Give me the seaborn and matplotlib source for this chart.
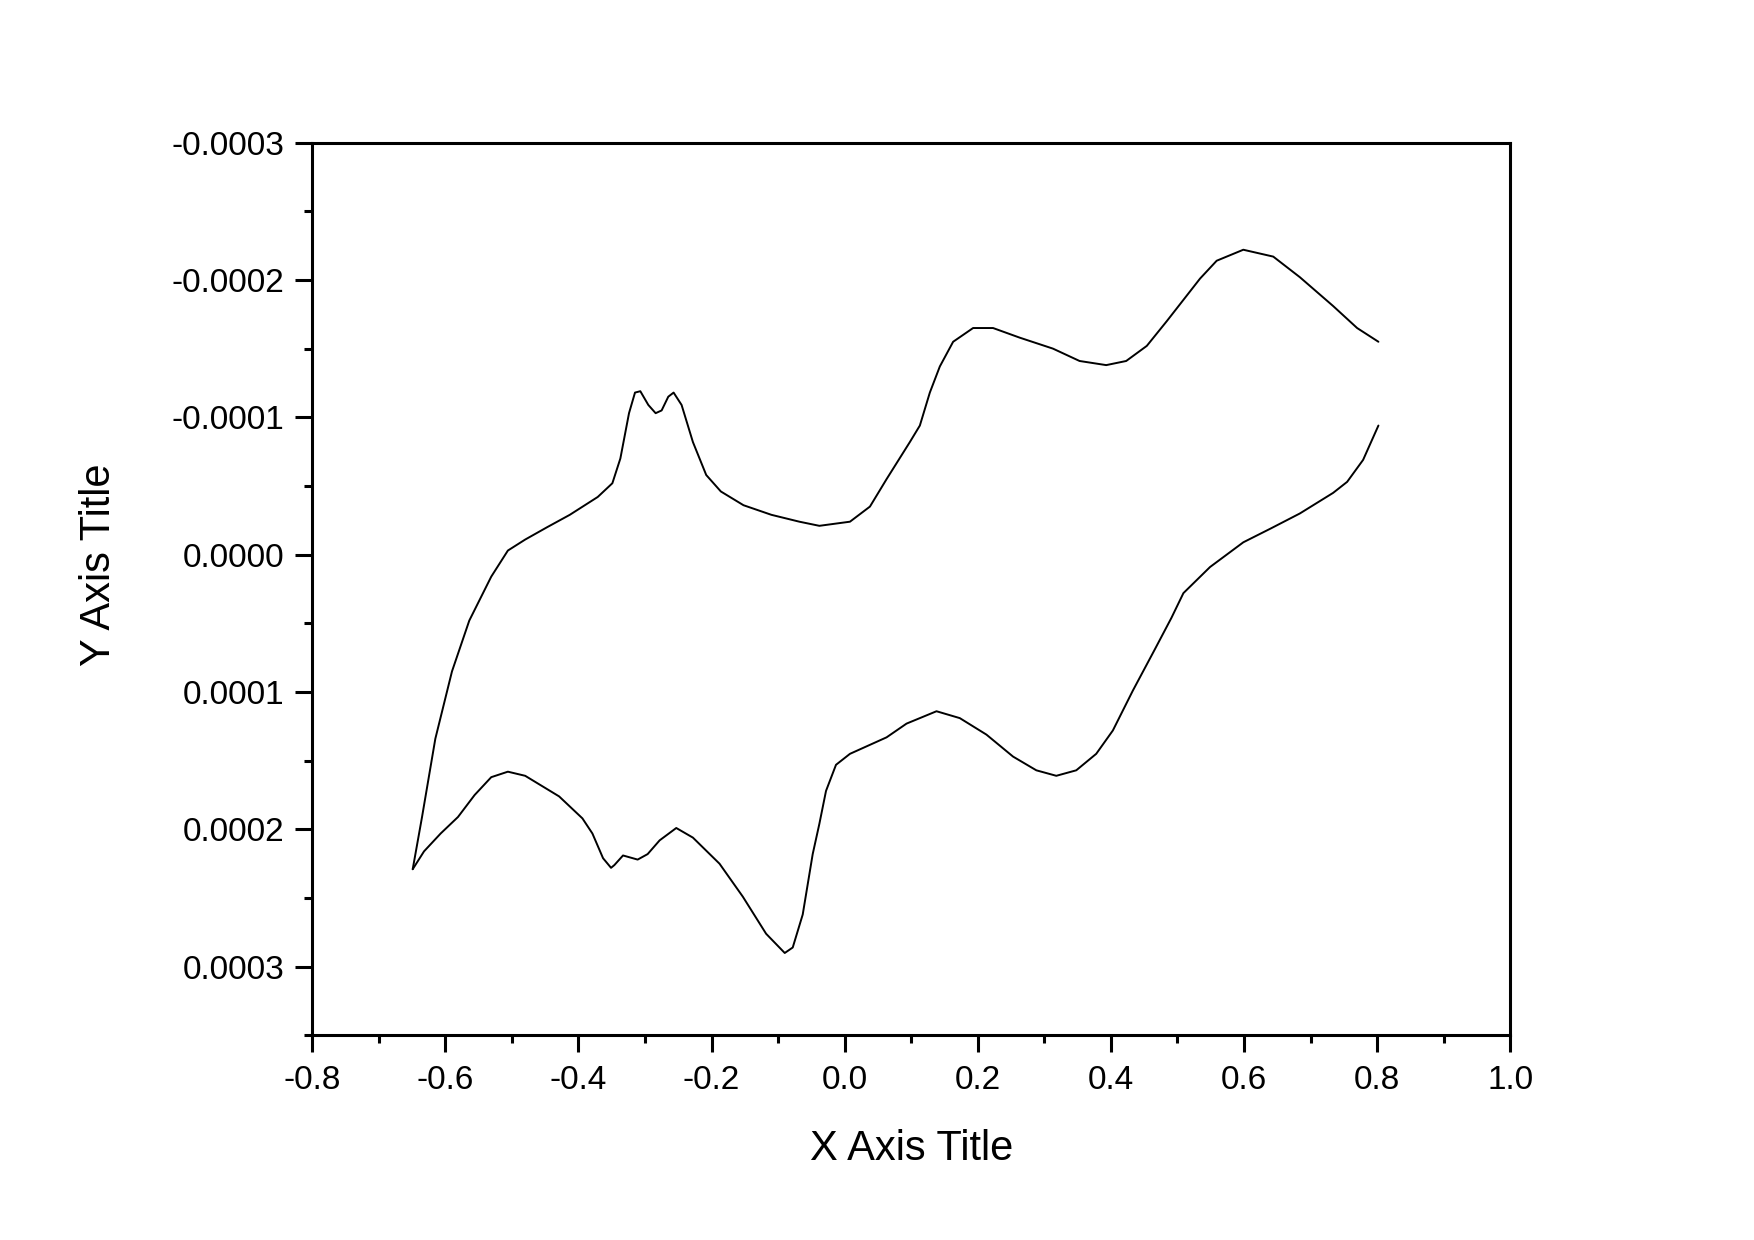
import matplotlib
matplotlib.use("Agg")

import matplotlib.pyplot as plt
import seaborn as sns
from matplotlib.ticker import MultipleLocator, FormatStrFormatter

# forward sweep (upper branch on screen), potential / current in 1e-4
fwd_x = [-0.649, -0.635, -0.615, -0.590, -0.564, -0.531, -0.506, -0.480, -0.447, -0.413,
         -0.371, -0.349, -0.337, -0.324, -0.315, -0.307, -0.295, -0.284, -0.275, -0.265,
         -0.257, -0.245, -0.228, -0.208, -0.186, -0.152, -0.110, -0.068, -0.038, 0.008,
         0.038, 0.063, 0.098, 0.113, 0.128, 0.143, 0.163, 0.193, 0.223, 0.263,
         0.313, 0.353, 0.393, 0.423, 0.454, 0.484, 0.534, 0.559, 0.599, 0.644,
         0.684, 0.734, 0.770, 0.802]
fwd_y = [2.29, 1.91, 1.34, 0.85, 0.48, 0.16, -0.03, -0.11, -0.20, -0.29,
         -0.42, -0.52, -0.70, -1.03, -1.18, -1.19, -1.09, -1.03, -1.05, -1.15,
         -1.18, -1.09, -0.82, -0.58, -0.46, -0.36, -0.29, -0.24, -0.21, -0.24,
         -0.35, -0.55, -0.82, -0.94, -1.18, -1.37, -1.55, -1.65, -1.65, -1.58,
         -1.50, -1.41, -1.38, -1.41, -1.52, -1.70, -2.01, -2.14, -2.22, -2.17,
         -2.02, -1.81, -1.65, -1.55]

# reverse sweep (lower branch on screen)
rev_x = [0.802, 0.779, 0.755, 0.734, 0.684, 0.640, 0.599, 0.549, 0.509, 0.491,
         0.466, 0.433, 0.403, 0.378, 0.348, 0.318, 0.288, 0.253, 0.213, 0.173,
         0.138, 0.093, 0.063, 0.008, -0.013, -0.028, -0.038, -0.048, -0.063, -0.078,
         -0.090, -0.118, -0.153, -0.188, -0.228, -0.253, -0.278, -0.296, -0.311, -0.333,
         -0.346, -0.351, -0.363, -0.379, -0.394, -0.429, -0.480, -0.506, -0.531, -0.556,
         -0.581, -0.607, -0.632, -0.649]
rev_y = [-0.94, -0.69, -0.53, -0.45, -0.30, -0.19, -0.09, 0.09, 0.28, 0.46,
         0.69, 0.99, 1.28, 1.45, 1.57, 1.61, 1.57, 1.47, 1.31, 1.19,
         1.14, 1.23, 1.33, 1.45, 1.53, 1.72, 1.96, 2.18, 2.62, 2.86,
         2.90, 2.76, 2.49, 2.25, 2.06, 1.99, 2.08, 2.18, 2.22, 2.19,
         2.26, 2.28, 2.21, 2.03, 1.92, 1.76, 1.61, 1.58, 1.62, 1.75,
         1.91, 2.03, 2.16, 2.29]

fwd_y = [v * 1e-4 for v in fwd_y]
rev_y = [v * 1e-4 for v in rev_y]

sns.set_style("white")
plt.rcParams["font.family"] = ["Liberation Sans", "DejaVu Sans"]
plt.rcParams["text.color"] = "black"
plt.rcParams["axes.labelcolor"] = "black"
plt.rcParams["xtick.color"] = "black"
plt.rcParams["ytick.color"] = "black"

fig = plt.figure(figsize=(17.54, 12.40), dpi=100)
ax = fig.add_axes([0.178, 0.165, 0.683, 0.720])

line_kw = dict(sort=False, estimator=None, color="black", linewidth=1.4,
               solid_joinstyle="round", ax=ax)
sns.lineplot(x=fwd_x, y=fwd_y, **line_kw)
sns.lineplot(x=rev_x, y=rev_y, **line_kw)

ax.set_xlim(-0.8, 1.0)
ax.set_ylim(0.00035, -0.0003)

ax.xaxis.set_major_locator(MultipleLocator(0.2))
ax.xaxis.set_minor_locator(MultipleLocator(0.1))
ax.yaxis.set_major_locator(MultipleLocator(0.0001))
ax.yaxis.set_minor_locator(MultipleLocator(0.00005))
ax.xaxis.set_major_formatter(FormatStrFormatter("%.1f"))
ax.yaxis.set_major_formatter(FormatStrFormatter("%.4f"))

for sp in ax.spines.values():
    sp.set_linewidth(2.2)
    sp.set_color("black")

ax.tick_params(which="both", direction="out", color="black", width=2.2,
               top=False, right=False, left=True, bottom=True)
ax.tick_params(which="major", length=12, labelsize=24, labelcolor="black")
ax.tick_params(axis="x", which="major", pad=9)
ax.tick_params(axis="y", which="major", pad=8)
ax.tick_params(which="minor", length=6)

ax.set_xlabel("X Axis Title", fontsize=30, color="black")
ax.set_ylabel("Y Axis Title", fontsize=30, color="black")
ax.xaxis.label.set_va("center")
ax.yaxis.label.set_va("center")
ax.xaxis.set_label_coords(0.5, -0.127)
ax.yaxis.set_label_coords(-0.178, 0.527)

fig.savefig("out.png", dpi=100, facecolor="white")
plt.close(fig)
